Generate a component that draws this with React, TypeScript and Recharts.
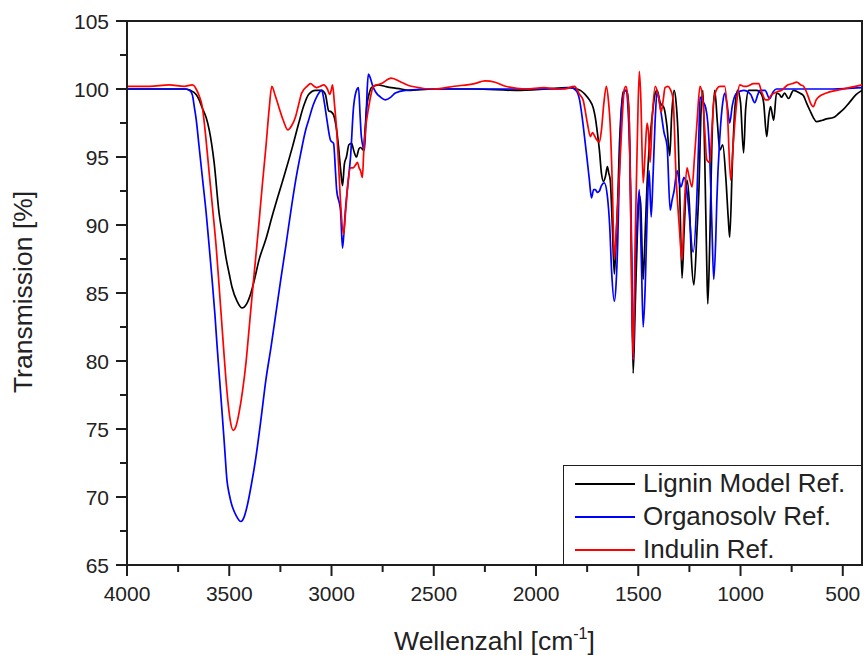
import React from 'react';
import {
  LineChart,
  Line,
  XAxis,
  YAxis,
  Label,
  ReferenceArea,
} from 'recharts';

type Pt = [number, number];

// [wavenumber cm-1, transmission %]
const lignin: Pt[] = [
  [4000, 100.0], [3850, 100.0], [3720, 100.0], [3690, 99.9], [3662, 99.6], [3647, 99.2], [3632, 98.6],
  [3613, 97.9], [3598, 97.0], [3574, 94.6], [3550, 90.9], [3530, 89.0], [3516, 87.6], [3500, 86.4],
  [3486, 85.4], [3462, 84.4], [3438, 83.9], [3415, 84.2], [3394, 85.0], [3375, 86.1], [3355, 87.4],
  [3320, 89.0], [3291, 90.6], [3258, 92.3], [3224, 94.0], [3190, 95.8], [3160, 97.5], [3135, 98.8],
  [3112, 99.6], [3078, 99.9], [3048, 99.9], [3030, 99.6], [3014, 98.4], [3000, 98.3], [2990, 98.1],
  [2975, 97.0], [2966, 95.8], [2955, 94.0], [2946, 92.9], [2937, 94.5], [2927, 95.0], [2915, 95.9],
  [2902, 96.0], [2890, 95.4], [2878, 95.0], [2866, 95.6], [2858, 95.7], [2844, 95.5], [2836, 97.0],
  [2829, 98.5], [2815, 99.7], [2805, 100.1], [2771, 100.3], [2740, 100.2], [2707, 100.1], [2660, 100.0],
  [2625, 99.9], [2500, 100.0], [2300, 100.0], [2100, 99.9], [1950, 100.0], [1846, 100.1], [1800, 100.0],
  [1783, 99.9], [1760, 99.6], [1739, 99.2], [1720, 98.6], [1710, 97.9], [1700, 96.8], [1690, 95.5],
  [1680, 93.8], [1670, 93.2], [1660, 93.6], [1651, 94.3], [1644, 93.8], [1637, 93.3], [1627, 90.0],
  [1617, 86.4], [1608, 89.0], [1600, 92.0], [1593, 95.5], [1583, 98.5], [1573, 99.8], [1560, 99.9],
  [1552, 99.6], [1544, 97.6], [1535, 89.0], [1525, 79.1], [1515, 84.0], [1505, 89.1], [1495, 92.2],
  [1488, 91.5], [1481, 88.0], [1476, 86.0], [1466, 89.5], [1457, 93.0], [1447, 95.6], [1432, 98.0],
  [1417, 99.7], [1408, 99.9], [1393, 99.0], [1374, 98.6], [1360, 97.3], [1346, 95.1], [1337, 98.0],
  [1325, 99.9], [1315, 99.0], [1305, 96.5], [1295, 91.0], [1286, 86.1], [1276, 89.5], [1262, 93.3],
  [1250, 91.5], [1240, 87.5], [1228, 85.6], [1213, 89.5], [1203, 92.8], [1194, 98.0], [1184, 99.9],
  [1175, 95.0], [1165, 87.0], [1160, 84.2], [1150, 89.0], [1140, 96.0], [1126, 99.9], [1113, 97.5],
  [1101, 95.5], [1087, 95.9], [1072, 93.5], [1060, 90.5], [1053, 89.1], [1040, 94.5], [1028, 98.5],
  [1014, 99.9], [1000, 99.0], [985, 95.3], [975, 98.5], [960, 99.9], [921, 99.9], [897, 99.6],
  [887, 99.0], [872, 96.5], [862, 98.0], [853, 98.7], [838, 97.7], [824, 99.7], [810, 99.6],
  [799, 99.4], [785, 99.7], [765, 99.3], [741, 99.9], [711, 99.7], [692, 99.5], [678, 99.0],
  [660, 98.4], [644, 97.9], [629, 97.6], [600, 97.7], [580, 97.8], [546, 97.9], [520, 98.2],
  [497, 98.5], [468, 99.0], [434, 99.6], [406, 99.9],
];

const organosolv: Pt[] = [
  [4000, 100.0], [3850, 100.0], [3720, 100.0], [3695, 99.9], [3681, 99.6], [3670, 98.6], [3662, 97.8],
  [3647, 95.7], [3630, 93.3], [3613, 90.9], [3598, 88.4], [3584, 86.0], [3570, 83.4], [3559, 81.0],
  [3547, 78.6], [3535, 76.2], [3523, 73.7], [3511, 71.2], [3500, 70.2], [3491, 69.6], [3465, 68.6],
  [3443, 68.2], [3428, 68.5], [3413, 69.3], [3392, 70.9], [3370, 72.9], [3345, 75.7], [3321, 78.6],
  [3296, 81.0], [3272, 83.5], [3248, 86.0], [3224, 88.4], [3200, 90.9], [3175, 93.3], [3150, 95.3],
  [3126, 97.0], [3112, 97.7], [3090, 98.8], [3070, 99.5], [3048, 99.9], [3035, 99.0], [3024, 97.9],
  [3004, 96.2], [2990, 96.0], [2980, 93.8], [2975, 92.6], [2956, 91.1], [2946, 88.3], [2937, 90.0],
  [2932, 91.1], [2920, 93.0], [2907, 95.0], [2892, 98.7], [2875, 100.0], [2868, 100.1], [2860, 98.0],
  [2854, 96.5], [2839, 95.5], [2832, 97.5], [2826, 99.8], [2820, 101.1], [2810, 100.8], [2800, 100.3],
  [2785, 99.8], [2760, 99.4], [2737, 99.2], [2710, 99.4], [2688, 99.7], [2639, 99.9], [2500, 100.0],
  [2200, 100.0], [2000, 100.0], [1895, 100.0], [1831, 100.1], [1805, 99.9], [1787, 99.2], [1775, 98.0],
  [1763, 96.5], [1750, 94.8], [1739, 93.3], [1729, 92.0], [1718, 92.6], [1710, 92.6], [1700, 92.4],
  [1690, 92.5], [1680, 92.9], [1666, 93.1], [1651, 92.1], [1640, 90.0], [1630, 86.5], [1617, 84.4],
  [1608, 85.8], [1600, 89.0], [1593, 93.5], [1585, 97.5], [1573, 99.6], [1560, 99.9], [1550, 98.5],
  [1539, 94.0], [1532, 88.0], [1525, 80.1], [1515, 86.7], [1505, 90.5], [1495, 92.6], [1485, 87.5],
  [1476, 82.5], [1466, 85.5], [1457, 90.5], [1447, 94.0], [1437, 90.6], [1428, 93.5], [1418, 97.5],
  [1408, 99.8], [1393, 98.7], [1374, 96.8], [1359, 95.8], [1344, 91.1], [1335, 91.8], [1325, 92.5],
  [1310, 94.0], [1300, 93.2], [1291, 92.8], [1276, 93.5], [1262, 92.5], [1252, 91.0], [1232, 88.0],
  [1213, 92.2], [1203, 97.0], [1198, 99.4], [1185, 99.1], [1170, 98.6], [1160, 97.5], [1150, 94.8],
  [1140, 90.0], [1131, 86.0], [1121, 89.0], [1116, 91.7], [1101, 96.5], [1087, 99.0], [1077, 99.7],
  [1065, 98.8], [1053, 97.5], [1040, 98.8], [1019, 99.7], [985, 99.9], [950, 99.6], [931, 99.0],
  [915, 99.6], [906, 99.9], [880, 99.9], [858, 99.3], [840, 99.8], [824, 100.0], [700, 100.0],
  [550, 100.0], [406, 100.1],
];

const indulin: Pt[] = [
  [4000, 100.2], [3890, 100.2], [3793, 100.3], [3720, 100.2], [3681, 100.3], [3670, 100.2], [3662, 100.0],
  [3647, 99.5], [3632, 98.7], [3615, 96.5], [3598, 93.8], [3580, 91.0], [3564, 88.4], [3552, 86.0],
  [3540, 83.5], [3528, 81.0], [3516, 78.6], [3505, 76.8], [3496, 75.7], [3481, 74.9], [3467, 75.2],
  [3452, 76.2], [3435, 77.8], [3418, 79.9], [3404, 82.2], [3389, 84.7], [3372, 87.4], [3355, 90.1],
  [3338, 93.0], [3321, 95.7], [3305, 98.5], [3292, 100.2], [3275, 99.5], [3258, 98.7], [3236, 97.7],
  [3214, 97.0], [3195, 97.3], [3175, 98.0], [3160, 98.9], [3146, 99.7], [3120, 100.2], [3102, 100.4],
  [3085, 100.2], [3073, 100.1], [3055, 100.2], [3039, 100.3], [3020, 100.0], [3009, 99.6], [3000, 100.0],
  [2995, 100.3], [2985, 98.8], [2975, 97.0], [2966, 94.6], [2955, 91.5], [2941, 89.3], [2932, 90.8],
  [2920, 93.0], [2907, 94.2], [2895, 94.2], [2883, 94.4], [2873, 94.6], [2865, 94.2], [2858, 94.0],
  [2849, 93.5], [2842, 95.5], [2834, 97.0], [2820, 98.5], [2808, 99.5], [2795, 100.2], [2756, 100.4],
  [2708, 100.8], [2659, 100.5], [2610, 100.2], [2500, 100.0], [2400, 100.2], [2300, 100.4], [2250, 100.6],
  [2200, 100.5], [2150, 100.2], [2050, 100.0], [1960, 100.1], [1900, 100.0], [1860, 100.0], [1812, 100.2],
  [1787, 99.6], [1770, 99.2], [1749, 97.5], [1734, 96.5], [1724, 96.8], [1715, 96.6], [1705, 96.3],
  [1690, 96.1], [1680, 97.0], [1668, 99.0], [1656, 100.2], [1645, 99.0], [1637, 97.3], [1627, 93.0],
  [1617, 87.5], [1608, 89.5], [1600, 91.5], [1588, 95.0], [1578, 98.0], [1568, 100.0], [1560, 100.2],
  [1552, 99.5], [1544, 97.5], [1535, 89.0], [1525, 80.1], [1515, 89.0], [1505, 96.0], [1495, 101.3],
  [1488, 99.5], [1476, 93.1], [1466, 95.5], [1457, 97.5], [1450, 96.8], [1442, 94.6], [1432, 97.8],
  [1417, 100.2], [1405, 99.7], [1398, 99.2], [1388, 98.3], [1378, 99.2], [1369, 100.1], [1355, 100.2],
  [1344, 100.0], [1330, 99.3], [1315, 93.5], [1300, 90.0], [1286, 87.4], [1276, 91.0], [1262, 94.2],
  [1252, 93.6], [1237, 92.8], [1225, 95.0], [1213, 97.5], [1198, 100.2], [1185, 99.3], [1175, 97.0],
  [1165, 94.8], [1150, 94.6], [1140, 97.0], [1131, 99.0], [1116, 100.0], [1101, 100.2], [1077, 100.2],
  [1065, 98.5], [1048, 93.3], [1038, 95.5], [1028, 97.5], [1015, 99.5], [1004, 100.3], [985, 100.2],
  [970, 100.2], [936, 100.4], [911, 100.4], [897, 99.8], [877, 99.2], [863, 99.2], [853, 99.5],
  [820, 99.8], [799, 99.9], [770, 100.3], [745, 100.4], [726, 100.5], [705, 100.3], [692, 100.2],
  [678, 99.8], [668, 99.4], [656, 98.9], [644, 98.7], [630, 99.2], [619, 99.4], [580, 99.7],
  [531, 99.9], [468, 100.1], [406, 100.3],
];

const seriesNames = ['Lignin Model Ref.', 'Organosolv Ref.', 'Indulin Ref.'];
const seriesColors = ['#000000', '#0000ff', '#ff0000'];
const seriesData = [lignin, organosolv, indulin];

const xTicks = [500, 750, 1000, 1250, 1500, 1750, 2000, 2250, 2500, 2750, 3000, 3250, 3500, 3750, 4000];
const yTicks = [65, 67.5, 70, 72.5, 75, 77.5, 80, 82.5, 85, 87.5, 90, 92.5, 95, 97.5, 100, 102.5, 105];

const FONT = '"Liberation Sans", Arial, sans-serif';
const AXIS = '#1e1e1e';

const XTick = (props: any) => {
  const { x, y, payload } = props;
  const major = payload.value % 500 === 0;
  return (
    <g>
      <line x1={x} x2={x} y1={y} y2={y + (major ? 11 : 7)} stroke={AXIS} strokeWidth={2} />
      {major && (
        <text x={x} y={y + 21} dy="0.71em" textAnchor="middle" fontSize={21} fontFamily={FONT} fill="#222">
          {payload.value}
        </text>
      )}
    </g>
  );
};

const YTick = (props: any) => {
  const { x, y, payload } = props;
  const major = payload.value % 5 === 0;
  return (
    <g>
      <line x1={x - (major ? 11 : 7)} x2={x} y1={y} y2={y} stroke={AXIS} strokeWidth={2} />
      {major && (
        <text x={x - 18} y={y} dy="0.36em" textAnchor="end" fontSize={21} fontFamily={FONT} fill="#222">
          {payload.value}
        </text>
      )}
    </g>
  );
};

const XTitle = (props: any) => {
  const vb = props.viewBox || { x: 127, y: 565, width: 735, height: 90 };
  const cx = vb.x + vb.width / 2;
  return (
    <text x={cx} y={vb.y + 85} textAnchor="middle" fontSize={26.5} fontFamily={FONT} fill="#222">
      Wellenzahl [cm
      <tspan dy={-11} fontSize={16}>-1</tspan>
      <tspan dy={11}>]</tspan>
    </text>
  );
};

const YTitle = (props: any) => {
  const vb = props.viewBox || { x: 0, y: 21, width: 127, height: 544 };
  const cx = 22;
  const cy = vb.y + vb.height / 2 - 1;
  return (
    <text
      x={cx}
      y={cy}
      dy="0.36em"
      textAnchor="middle"
      fontSize={26.5}
      fontFamily={FONT}
      fill="#222"
      transform={`rotate(-90, ${cx}, ${cy})`}
    >
      Transmission [%]
    </text>
  );
};

export default function App() {
  const lines = seriesData.map((pts) => pts.map(([wn, t]) => ({ wn, t })));

  return (
    <div style={{ position: 'absolute', left: 0, top: 0, width: 864, height: 655, background: '#fff' }}>
      <LineChart width={864} height={655} margin={{ top: 21, right: 2, bottom: 0, left: 0 }}>
        <XAxis
          dataKey="wn"
          type="number"
          domain={[406, 4000]}
          reversed
          allowDataOverflow
          ticks={xTicks}
          interval={0}
          height={90}
          tickSize={0}
          tickMargin={0}
          tickLine={false}
          tick={<XTick />}
          axisLine={{ stroke: AXIS, strokeWidth: 2 }}
        >
          <Label content={<XTitle />} />
        </XAxis>
        <YAxis
          type="number"
          domain={[65, 105]}
          allowDataOverflow
          ticks={yTicks}
          interval={0}
          width={127}
          tickSize={0}
          tickMargin={0}
          tickLine={false}
          tick={<YTick />}
          axisLine={{ stroke: AXIS, strokeWidth: 2 }}
        >
          <Label content={<YTitle />} />
        </YAxis>
        <ReferenceArea x1={406} x2={4000} y1={65} y2={105} fill="none" stroke={AXIS} strokeWidth={2} ifOverflow="visible" />
        {lines.map((d, i) => (
          <Line
            key={seriesNames[i]}
            data={d}
            dataKey="t"
            name={seriesNames[i]}
            type="monotone"
            stroke={seriesColors[i]}
            strokeWidth={1.7}
            dot={false}
            activeDot={false}
            isAnimationActive={false}
          />
        ))}
      </LineChart>
      <div
        style={{
          position: 'absolute',
          left: 563,
          top: 465,
          width: 299,
          height: 100,
          boxSizing: 'border-box',
          border: `1.5px solid ${AXIS}`,
          background: '#fff',
          fontFamily: FONT,
          fontSize: 26,
          color: '#222',
          paddingTop: 1,
        }}
      >
        {seriesNames.map((n, i) => (
          <div key={n} style={{ display: 'flex', alignItems: 'center', height: 33 }}>
            <span style={{ display: 'inline-block', width: 60, height: 0, borderTop: `2px solid ${seriesColors[i]}`, marginLeft: 11, marginRight: 8 }} />
            <span style={{ whiteSpace: 'nowrap' }}>{n}</span>
          </div>
        ))}
      </div>
    </div>
  );
}
